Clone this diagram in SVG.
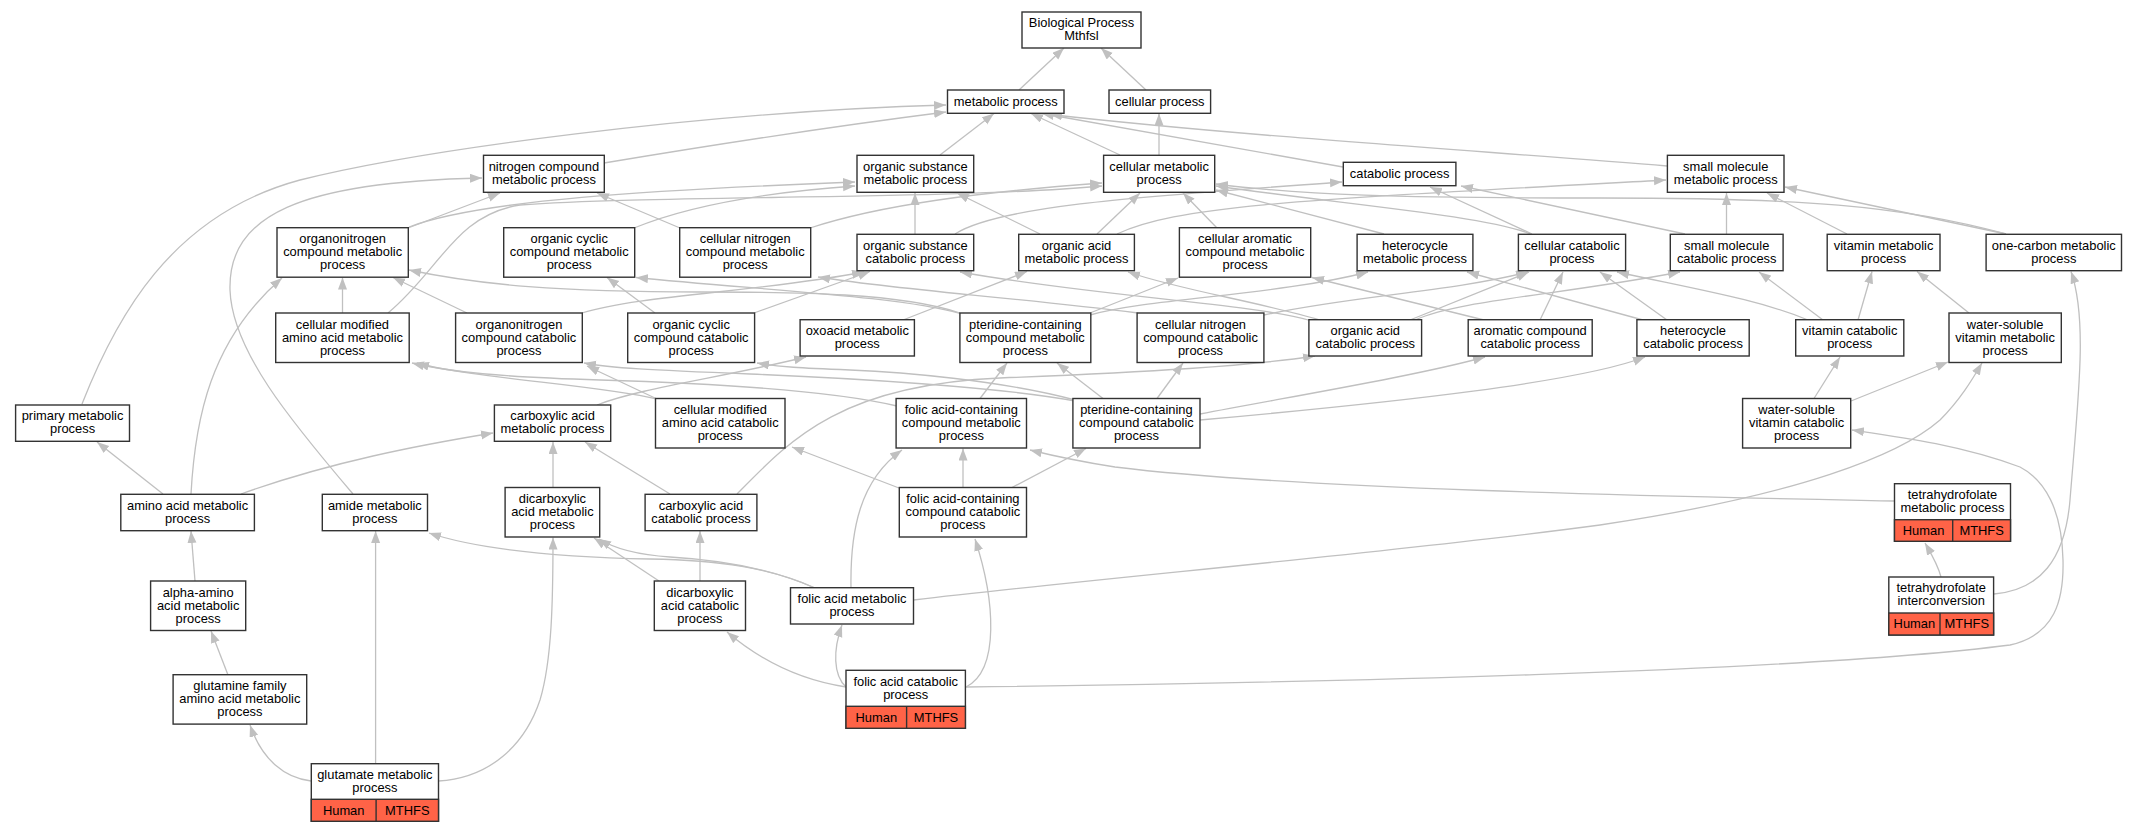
<svg xmlns="http://www.w3.org/2000/svg" width="2137" height="832" viewBox="0 0 2137 832">
<style>
.n rect{fill:#fff;stroke:#333;stroke-width:1.4}
.n rect.gene{fill:#ff6347}
.n line{stroke:#333;stroke-width:1.4}
.n text{font-family:"Liberation Sans",Arial,sans-serif;font-size:12.9px;text-anchor:middle;fill:#000}
.e path{fill:none;stroke:#c0c0c0;stroke-width:1.3;marker-end:url(#ah)}
</style>
<defs>
<marker id="ah" markerWidth="13" markerHeight="10" refX="12" refY="4.5" orient="auto" markerUnits="userSpaceOnUse"><path d="M0,0 L12,4.5 L0,9 z" fill="#c0c0c0" stroke="none"/></marker>
</defs>
<rect width="2137" height="832" fill="#fff"/>
<g id="connectors" class="e">
<path d="M1019,90 L1064,48"/>
<path d="M1146,90 L1101,48"/>
<path d="M940,155 L994,113.5"/>
<path d="M1120,155 L1031,113.5"/>
<path d="M1159,155 L1159,113.5"/>
<path d="M1343,167 L1042,113.5"/>
<path d="M1667,166 C1500,152 1250,137 1050,114.5"/>
<path d="M604,163 C700,147 820,128 946,112"/>
<path d="M82,404 C115,320 170,215 300,180 C420,150 700,112 946,105"/>
<path d="M353,494 C290,420 232,350 230,290 C228,215 300,182 482,178"/>
<path d="M408,228 L500,193"/>
<path d="M409,227 C480,200 650,190 855,182"/>
<path d="M634,228 C690,205 770,192 855,186"/>
<path d="M388,313 C440,270 455,215 520,205 C650,195 950,200 1102,186"/>
<path d="M680,228 L597,193"/>
<path d="M810,228 C880,205 980,192 1102,183"/>
<path d="M915,234 L915,193"/>
<path d="M955,234 C1000,205 1150,196 1342,182"/>
<path d="M1040,234 L957,193"/>
<path d="M1097,234 L1140,193"/>
<path d="M1117,234 C1180,205 1300,200 1666,180"/>
<path d="M1217,228 L1183,193"/>
<path d="M1384,234 L1216,190"/>
<path d="M1531,234 C1480,215 1350,205 1216,186"/>
<path d="M1532,234 L1430,187"/>
<path d="M2006,234 C1900,205 1800,198 1600,198 C1400,198 1300,195 1216,184"/>
<path d="M2006,234 L1785,187"/>
<path d="M1726.5,234 L1726.5,193"/>
<path d="M1685,234 L1461,186"/>
<path d="M1847,234 L1767,193"/>
<path d="M342.5,313 L342.5,277.5"/>
<path d="M467,313 L393,277.5"/>
<path d="M582,313 C640,295 760,292 864,272"/>
<path d="M754,313 L870,271.5"/>
<path d="M655,313 L607,277.5"/>
<path d="M903,320 L1027,271.5"/>
<path d="M960,313 C900,293 800,292 700,292 C560,292 480,285 409,270"/>
<path d="M962,314 C900,296 760,290 636,277.5"/>
<path d="M1090,313 L1178,278"/>
<path d="M1090,315 C1150,298 1280,295 1368,272"/>
<path d="M1138,313 C1000,296 900,290 818,277"/>
<path d="M1264,315 C1350,296 1450,292 1528,272"/>
<path d="M1320,320 C1260,302 1180,290 1128,272"/>
<path d="M1312,321 C1250,303 1100,297 960,272"/>
<path d="M1410,320 L1529,272"/>
<path d="M1415,320 C1460,300 1560,295 1680,272"/>
<path d="M1540,320 L1563,272"/>
<path d="M1484,320 L1312,277.5"/>
<path d="M1643,320 L1467,272"/>
<path d="M1667,320 L1600,272"/>
<path d="M1808,320 C1760,300 1700,290 1617,272"/>
<path d="M1823,320 L1759,272"/>
<path d="M1858,320 L1872,271.5"/>
<path d="M1969,313 L1917,271.5"/>
<path d="M1994,594 C2040,590 2065,560 2070,500 C2078,400 2088,320 2071,271.5"/>
<path d="M1814,398.5 L1840,357"/>
<path d="M1851,401 L1948,362"/>
<path d="M913.5,600 C1100,578 1400,552 1600,525 C1800,495 1900,455 1940,420 C1960,400 1972,380 1982,363"/>
<path d="M966,687 C1300,683 1800,672 2010,645 C2055,635 2064,600 2063,560 C2062,510 2045,480 2020,467 C1960,445 1900,437 1852,430"/>
<path d="M1894,501 C1700,497 1300,490 1115,467 C1070,460 1050,455 1030,450"/>
<path d="M1941,577 C1938,565 1932,555 1925,543"/>
<path d="M846,687 C833,675 833,650 842,625"/>
<path d="M846,687 C800,680 760,660 727,632"/>
<path d="M966,687 C1000,670 995,600 975,539"/>
<path d="M851,588 C850,530 860,480 902,450"/>
<path d="M815,588 C770,568 720,560 650,559 C560,557 480,550 429,533"/>
<path d="M815,588 C770,568 720,560 670,557 C640,555 615,549 599,539"/>
<path d="M659,581 L594,538"/>
<path d="M700,581 L700,531"/>
<path d="M670,494 L585,442"/>
<path d="M737,494 C790,440 840,385 1000,378 C1150,372 1250,366 1315,356"/>
<path d="M553,487.5 L553,442"/>
<path d="M241,494 C330,462 420,445 493,433"/>
<path d="M163,494 L97,442"/>
<path d="M191,494 C195,420 210,340 282,278"/>
<path d="M195,581 L191,531"/>
<path d="M228,675 L211,631"/>
<path d="M311,781 C285,778 262,760 250,725"/>
<path d="M375.6,763.7 L375.6,531"/>
<path d="M438.5,781 C490,778 525,745 540,700 C552,660 553,600 553,537.5"/>
<path d="M597,405 C640,388 720,378 806,357"/>
<path d="M657,399 C600,385 470,378 417,363"/>
<path d="M657,399 L587,366"/>
<path d="M897,406 C830,390 700,383 600,380 C500,377 450,372 412,363"/>
<path d="M980,398.5 L1007,363"/>
<path d="M1103,398.5 L1057,363"/>
<path d="M1157,398.5 L1183,363"/>
<path d="M1075,400 C1000,380 900,372 850,370 C800,368 780,367 757,363"/>
<path d="M1075,401 C1000,387 850,378 750,374 C650,370 610,368 584,363"/>
<path d="M1200,414 C1300,395 1420,375 1485,357"/>
<path d="M1200,420 C1400,402 1580,382 1645,357"/>
<path d="M963,487.5 L963,448.5"/>
<path d="M1012,487.5 L1086,448.5"/>
<path d="M899,488 L792,447"/>
</g>
<g id="n_bp" class="n"><rect x="1022" y="12" width="119" height="36"/><text><tspan x="1081.5" y="27.3">Biological Process</tspan><tspan x="1081.5" y="40.3">Mthfsl</tspan></text></g>
<g id="n_mp" class="n"><rect x="947.5" y="90" width="116.5" height="23.3"/><text><tspan x="1005.75" y="105.6">metabolic process</tspan></text></g>
<g id="n_cp" class="n"><rect x="1109" y="90" width="101.6" height="23.3"/><text><tspan x="1159.8" y="105.6">cellular process</tspan></text></g>
<g id="n_ncmp" class="n"><rect x="483.5" y="155.3" width="120.8" height="37"/><text><tspan x="543.9" y="171.1">nitrogen compound</tspan><tspan x="543.9" y="184.1">metabolic process</tspan></text></g>
<g id="n_osmp" class="n"><rect x="857" y="155.3" width="116.7" height="37"/><text><tspan x="915.35" y="171.1">organic substance</tspan><tspan x="915.35" y="184.1">metabolic process</tspan></text></g>
<g id="n_cmp" class="n"><rect x="1103.6" y="155.3" width="111.1" height="37"/><text><tspan x="1159.15" y="171.1">cellular metabolic</tspan><tspan x="1159.15" y="184.1">process</tspan></text></g>
<g id="n_catp" class="n"><rect x="1343.3" y="162.3" width="112.6" height="23.4"/><text><tspan x="1399.6" y="178">catabolic process</tspan></text></g>
<g id="n_smmp" class="n"><rect x="1667.4" y="155.3" width="116.6" height="37"/><text><tspan x="1725.7" y="171.1">small molecule</tspan><tspan x="1725.7" y="184.1">metabolic process</tspan></text></g>
<g id="n_oncmp" class="n"><rect x="277" y="227.7" width="131.3" height="49.5"/><text><tspan x="342.65" y="243.25">organonitrogen</tspan><tspan x="342.65" y="256.25">compound metabolic</tspan><tspan x="342.65" y="269.25">process</tspan></text></g>
<g id="n_occmp" class="n"><rect x="503.7" y="227.7" width="131" height="49.5"/><text><tspan x="569.2" y="243.25">organic cyclic</tspan><tspan x="569.2" y="256.25">compound metabolic</tspan><tspan x="569.2" y="269.25">process</tspan></text></g>
<g id="n_cncmp" class="n"><rect x="679.7" y="227.7" width="131" height="49.5"/><text><tspan x="745.2" y="243.25">cellular nitrogen</tspan><tspan x="745.2" y="256.25">compound metabolic</tspan><tspan x="745.2" y="269.25">process</tspan></text></g>
<g id="n_oscp" class="n"><rect x="857" y="234.3" width="116.7" height="36.4"/><text><tspan x="915.35" y="249.8">organic substance</tspan><tspan x="915.35" y="262.8">catabolic process</tspan></text></g>
<g id="n_oamp" class="n"><rect x="1018.7" y="234.3" width="115.7" height="36.4"/><text><tspan x="1076.55" y="249.8">organic acid</tspan><tspan x="1076.55" y="262.8">metabolic process</tspan></text></g>
<g id="n_cacmp" class="n"><rect x="1179.4" y="227.7" width="131.3" height="49.5"/><text><tspan x="1245.05" y="243.25">cellular aromatic</tspan><tspan x="1245.05" y="256.25">compound metabolic</tspan><tspan x="1245.05" y="269.25">process</tspan></text></g>
<g id="n_hmp" class="n"><rect x="1357.1" y="234.3" width="115.8" height="36.4"/><text><tspan x="1415" y="249.8">heterocycle</tspan><tspan x="1415" y="262.8">metabolic process</tspan></text></g>
<g id="n_ccp" class="n"><rect x="1518.4" y="234.3" width="107.2" height="36.4"/><text><tspan x="1572" y="249.8">cellular catabolic</tspan><tspan x="1572" y="262.8">process</tspan></text></g>
<g id="n_smcp" class="n"><rect x="1670.3" y="234.3" width="112.8" height="36.4"/><text><tspan x="1726.7" y="249.8">small molecule</tspan><tspan x="1726.7" y="262.8">catabolic process</tspan></text></g>
<g id="n_vmp" class="n"><rect x="1827.2" y="234.3" width="112.8" height="36.4"/><text><tspan x="1883.6" y="249.8">vitamin metabolic</tspan><tspan x="1883.6" y="262.8">process</tspan></text></g>
<g id="n_ocmp" class="n"><rect x="1986.1" y="234.3" width="135.4" height="36.4"/><text><tspan x="2053.8" y="249.8">one-carbon metabolic</tspan><tspan x="2053.8" y="262.8">process</tspan></text></g>
<g id="n_cmaamp" class="n"><rect x="275.7" y="313" width="133.5" height="49.5"/><text><tspan x="342.45" y="328.55">cellular modified</tspan><tspan x="342.45" y="341.55">amino acid metabolic</tspan><tspan x="342.45" y="354.55">process</tspan></text></g>
<g id="n_onccp" class="n"><rect x="455.6" y="313" width="126.7" height="49.5"/><text><tspan x="518.95" y="328.55">organonitrogen</tspan><tspan x="518.95" y="341.55">compound catabolic</tspan><tspan x="518.95" y="354.55">process</tspan></text></g>
<g id="n_occcp" class="n"><rect x="627.7" y="313" width="126.9" height="49.5"/><text><tspan x="691.15" y="328.55">organic cyclic</tspan><tspan x="691.15" y="341.55">compound catabolic</tspan><tspan x="691.15" y="354.55">process</tspan></text></g>
<g id="n_oxmp" class="n"><rect x="800.1" y="319.7" width="114.3" height="36.3"/><text><tspan x="857.25" y="335.15">oxoacid metabolic</tspan><tspan x="857.25" y="348.15">process</tspan></text></g>
<g id="n_pcmp" class="n"><rect x="959.9" y="313" width="130.9" height="49.5"/><text><tspan x="1025.35" y="328.55">pteridine-containing</tspan><tspan x="1025.35" y="341.55">compound metabolic</tspan><tspan x="1025.35" y="354.55">process</tspan></text></g>
<g id="n_cnccp" class="n"><rect x="1137.1" y="313" width="126.8" height="49.5"/><text><tspan x="1200.5" y="328.55">cellular nitrogen</tspan><tspan x="1200.5" y="341.55">compound catabolic</tspan><tspan x="1200.5" y="354.55">process</tspan></text></g>
<g id="n_oacp" class="n"><rect x="1308.9" y="319.7" width="112.7" height="36.3"/><text><tspan x="1365.25" y="335.15">organic acid</tspan><tspan x="1365.25" y="348.15">catabolic process</tspan></text></g>
<g id="n_accp" class="n"><rect x="1468.2" y="319.7" width="124" height="36.3"/><text><tspan x="1530.2" y="335.15">aromatic compound</tspan><tspan x="1530.2" y="348.15">catabolic process</tspan></text></g>
<g id="n_hcp" class="n"><rect x="1636.9" y="319.7" width="112.3" height="36.3"/><text><tspan x="1693.05" y="335.15">heterocycle</tspan><tspan x="1693.05" y="348.15">catabolic process</tspan></text></g>
<g id="n_vcp" class="n"><rect x="1795.7" y="319.7" width="108.1" height="36.3"/><text><tspan x="1849.75" y="335.15">vitamin catabolic</tspan><tspan x="1849.75" y="348.15">process</tspan></text></g>
<g id="n_wsvmp" class="n"><rect x="1949" y="313" width="112.3" height="49.5"/><text><tspan x="2005.15" y="328.55">water-soluble</tspan><tspan x="2005.15" y="341.55">vitamin metabolic</tspan><tspan x="2005.15" y="354.55">process</tspan></text></g>
<g id="n_pmp" class="n"><rect x="15.6" y="405" width="113.9" height="36.3"/><text><tspan x="72.55" y="420.45">primary metabolic</tspan><tspan x="72.55" y="433.45">process</tspan></text></g>
<g id="n_camp" class="n"><rect x="494.4" y="405" width="116.3" height="36.3"/><text><tspan x="552.55" y="420.45">carboxylic acid</tspan><tspan x="552.55" y="433.45">metabolic process</tspan></text></g>
<g id="n_cmaacp" class="n"><rect x="655.5" y="398.5" width="129.5" height="49.5"/><text><tspan x="720.25" y="414.05">cellular modified</tspan><tspan x="720.25" y="427.05">amino acid catabolic</tspan><tspan x="720.25" y="440.05">process</tspan></text></g>
<g id="n_facmp" class="n"><rect x="896.1" y="398.5" width="130.4" height="49.5"/><text><tspan x="961.3" y="414.05">folic acid-containing</tspan><tspan x="961.3" y="427.05">compound metabolic</tspan><tspan x="961.3" y="440.05">process</tspan></text></g>
<g id="n_pccp" class="n"><rect x="1072.9" y="398.5" width="127.1" height="49.5"/><text><tspan x="1136.45" y="414.05">pteridine-containing</tspan><tspan x="1136.45" y="427.05">compound catabolic</tspan><tspan x="1136.45" y="440.05">process</tspan></text></g>
<g id="n_wsvcp" class="n"><rect x="1742.6" y="398.5" width="108.1" height="49.5"/><text><tspan x="1796.65" y="414.05">water-soluble</tspan><tspan x="1796.65" y="427.05">vitamin catabolic</tspan><tspan x="1796.65" y="440.05">process</tspan></text></g>
<g id="n_aamp" class="n"><rect x="120.8" y="494.3" width="133.6" height="36.4"/><text><tspan x="187.6" y="509.8">amino acid metabolic</tspan><tspan x="187.6" y="522.8">process</tspan></text></g>
<g id="n_ammp" class="n"><rect x="322.3" y="494.3" width="105.2" height="36.4"/><text><tspan x="374.9" y="509.8">amide metabolic</tspan><tspan x="374.9" y="522.8">process</tspan></text></g>
<g id="n_dcamp" class="n"><rect x="505.1" y="487.5" width="94.6" height="49.5"/><text><tspan x="552.4" y="503.05">dicarboxylic</tspan><tspan x="552.4" y="516.05">acid metabolic</tspan><tspan x="552.4" y="529.05">process</tspan></text></g>
<g id="n_cacp" class="n"><rect x="645.1" y="494.3" width="111.8" height="36.4"/><text><tspan x="701" y="509.8">carboxylic acid</tspan><tspan x="701" y="522.8">catabolic process</tspan></text></g>
<g id="n_faccp" class="n"><rect x="899.3" y="487.5" width="127.2" height="49.5"/><text><tspan x="962.9" y="503.05">folic acid-containing</tspan><tspan x="962.9" y="516.05">compound catabolic</tspan><tspan x="962.9" y="529.05">process</tspan></text></g>
<g id="n_thfmp" class="n"><rect x="1894.5" y="483.7" width="116" height="57.6"/><rect class="gene" x="1894.5" y="519.7" width="116" height="21.6"/><line x1="1952.7" y1="519.7" x2="1952.7" y2="541.3"/><text><tspan x="1952.5" y="499">tetrahydrofolate</tspan><tspan x="1952.5" y="512">metabolic process</tspan><tspan x="1923.6" y="534.8">Human</tspan><tspan x="1981.6" y="534.8">MTHFS</tspan></text></g>
<g id="n_aaamp" class="n"><rect x="150.6" y="581" width="95.1" height="49.5"/><text><tspan x="198.15" y="596.55">alpha-amino</tspan><tspan x="198.15" y="609.55">acid metabolic</tspan><tspan x="198.15" y="622.55">process</tspan></text></g>
<g id="n_dcacp" class="n"><rect x="654.3" y="581" width="91.2" height="49.5"/><text><tspan x="699.9" y="596.55">dicarboxylic</tspan><tspan x="699.9" y="609.55">acid catabolic</tspan><tspan x="699.9" y="622.55">process</tspan></text></g>
<g id="n_famp" class="n"><rect x="790.5" y="587.7" width="123" height="36.3"/><text><tspan x="852" y="603.15">folic acid metabolic</tspan><tspan x="852" y="616.15">process</tspan></text></g>
<g id="n_thfi" class="n"><rect x="1888.8" y="577" width="104.8" height="58"/><rect class="gene" x="1888.8" y="613" width="104.8" height="22"/><line x1="1940" y1="613" x2="1940" y2="635"/><text><tspan x="1941.2" y="592.3">tetrahydrofolate</tspan><tspan x="1941.2" y="605.3">interconversion</tspan><tspan x="1914.4" y="628.3">Human</tspan><tspan x="1966.8" y="628.3">MTHFS</tspan></text></g>
<g id="n_gfaamp" class="n"><rect x="173.1" y="674.7" width="133.6" height="49.4"/><text><tspan x="239.9" y="690.15">glutamine family</tspan><tspan x="239.9" y="703.15">amino acid metabolic</tspan><tspan x="239.9" y="716.15">process</tspan></text></g>
<g id="n_facatp" class="n"><rect x="846" y="670.3" width="119.4" height="58"/><rect class="gene" x="846" y="706.3" width="119.4" height="22"/><line x1="906.6" y1="706.3" x2="906.6" y2="728.3"/><text><tspan x="905.7" y="685.6">folic acid catabolic</tspan><tspan x="905.7" y="698.6">process</tspan><tspan x="876.3" y="721.6">Human</tspan><tspan x="936" y="721.6">MTHFS</tspan></text></g>
<g id="n_gmp" class="n"><rect x="311.3" y="763.7" width="127.2" height="57.6"/><rect class="gene" x="311.3" y="799.3" width="127.2" height="22"/><line x1="376.1" y1="799.3" x2="376.1" y2="821.3"/><text><tspan x="374.9" y="778.8">glutamate metabolic</tspan><tspan x="374.9" y="791.8">process</tspan><tspan x="343.7" y="814.6">Human</tspan><tspan x="407.3" y="814.6">MTHFS</tspan></text></g>
</svg>
